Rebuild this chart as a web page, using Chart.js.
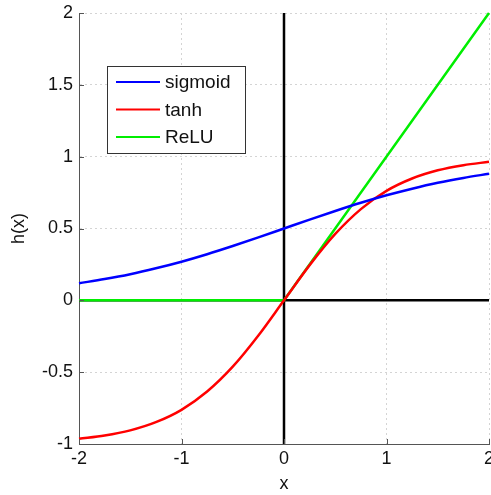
<!DOCTYPE html>
<html>
<head>
<meta charset="utf-8">
<script src="https://cdn.jsdelivr.net/npm/chart.js@4/dist/chart.umd.min.js"></script>
<style>
  html, body { margin: 0; padding: 0; background: #fff; }
  #wrap { width: 491px; height: 495px; }
</style>
</head>
<body>
<div id="wrap"><canvas id="actChart" width="491" height="495"></canvas></div>
<script>
// values
const xs = [-2, -1.75, -1.5, -1.25, -1, -0.75, -0.5, -0.25, 0, 0.25, 0.5, 0.75, 1, 1.25, 1.5, 1.75, 2];
const sigmoidVals = [0.119, 0.148, 0.182, 0.223, 0.269, 0.321, 0.378, 0.438, 0.5, 0.562, 0.622, 0.679, 0.731, 0.777, 0.818, 0.852, 0.881];
const tanhVals = [-0.964, -0.941, -0.905, -0.848, -0.762, -0.635, -0.462, -0.245, 0, 0.245, 0.462, 0.635, 0.762, 0.848, 0.905, 0.941, 0.964];
const reluX = [-2, 0, 2];
const reluVals = [0, 0, 2];
const xTicks = [-2, -1, 0, 1, 2];
const yTicks = [-1, -0.5, 0, 0.5, 1, 1.5, 2];

const FONT = 'Liberation Sans, Arial, sans-serif';

function pts(xv, yv) {
    return xv.map(function(x, i) { return { x: x, y: yv[i] }; });
}

// small inward tick marks + boxed legend in the upper left
const extras = {
    id: 'extras',
    afterDraw: function(chart) {
        const c = chart.ctx;
        const a = chart.chartArea;
        const sx = chart.scales.x, sy = chart.scales.y;
        c.save();
        c.strokeStyle = '#555';
        c.lineWidth = 1;
        c.beginPath();
        xTicks.forEach(function(t) {
            const px = Math.round(sx.getPixelForValue(t)) + 0.5;
            c.moveTo(px, a.bottom); c.lineTo(px, a.bottom - 5);
        });
        yTicks.forEach(function(t) {
            const py = Math.round(sy.getPixelForValue(t)) + 0.5;
            c.moveTo(a.left, py); c.lineTo(a.left + 5, py);
        });
        c.stroke();

        // legend
        const sets = chart.data.datasets.filter(function(d) { return d.inLegend; });
        const bx = 107.5, by = 66.5, bw = 138, bh = 87;
        c.fillStyle = '#fff';
        c.fillRect(bx, by, bw, bh);
        c.strokeStyle = '#333';
        c.strokeRect(bx, by, bw, bh);
        c.font = '19px ' + FONT;
        c.textBaseline = 'middle';
        sets.forEach(function(d, i) {
            const y = 82 + i * 27.5;
            c.strokeStyle = d.borderColor;
            c.lineWidth = 2;
            c.beginPath();
            c.moveTo(116, y); c.lineTo(160, y);
            c.stroke();
            c.fillStyle = '#111';
            c.fillText(d.label, 165, y + 1);
        });
        c.restore();
    }
};

function tickLabel(v) { return String(v); }

new Chart(document.getElementById('actChart'), {
    type: 'line',
    data: {
        datasets: [
            {
                label: 'sigmoid',
                inLegend: true,
                data: pts(xs, sigmoidVals),
                borderColor: '#0000ff',
                borderWidth: 2.5,
                pointRadius: 0,
                cubicInterpolationMode: 'monotone'
            },
            {
                label: 'tanh',
                inLegend: true,
                data: pts(xs, tanhVals),
                borderColor: '#ff0000',
                borderWidth: 2.5,
                pointRadius: 0,
                cubicInterpolationMode: 'monotone'
            },
            {
                label: 'ReLU',
                inLegend: true,
                data: pts(reluX, reluVals),
                borderColor: '#00ee00',
                borderWidth: 2.5,
                pointRadius: 0
            },
            {
                label: 'axis-v',
                data: [{ x: 0, y: -1 }, { x: 0, y: 2 }],
                borderColor: '#000',
                borderWidth: 2.5,
                pointRadius: 0
            },
            {
                label: 'axis-h',
                data: [{ x: -2, y: 0 }, { x: 2, y: 0 }],
                borderColor: '#000',
                borderWidth: 2.5,
                pointRadius: 0
            }
        ]
    },
    options: {
        responsive: false,
        animation: false,
        clip: false,
        layout: { padding: { top: 13, right: 2, left: 0, bottom: 0 } },
        plugins: {
            legend: { display: false },
            tooltip: { enabled: false }
        },
        scales: {
            x: {
                type: 'linear',
                min: -2,
                max: 2,
                afterBuildTicks: function(s) { s.ticks = xTicks.map(function(v) { return { value: v }; }); },
                afterFit: function(s) { s.height = 51; s.paddingLeft = 0; s.paddingRight = 0; },
                ticks: {
                    color: '#111',
                    padding: 4,
                    maxRotation: 0,
                    callback: tickLabel,
                    font: { size: 18, family: FONT }
                },
                grid: { color: '#d4d4d4', drawTicks: false, lineWidth: 1 },
                border: { color: '#555', width: 1, dash: [2, 3] },
                title: {
                    display: true,
                    text: 'x',
                    color: '#111',
                    padding: { top: 0, bottom: 0 },
                    font: { size: 18, family: FONT }
                }
            },
            y: {
                type: 'linear',
                min: -1,
                max: 2,
                afterBuildTicks: function(s) { s.ticks = yTicks.map(function(v) { return { value: v }; }); },
                afterFit: function(s) { s.width = 79; s.paddingTop = 0; s.paddingBottom = 0; },
                ticks: {
                    color: '#111',
                    padding: 6,
                    callback: tickLabel,
                    font: { size: 18, family: FONT }
                },
                grid: { color: '#d4d4d4', drawTicks: false, lineWidth: 1 },
                border: { color: '#555', width: 1, dash: [2, 3] },
                title: {
                    display: true,
                    text: 'h(x)',
                    color: '#111',
                    padding: { top: 8, bottom: 0 },
                    font: { size: 18, family: FONT }
                }
            }
        }
    },
    plugins: [extras]
});
</script>
</body>
</html>
